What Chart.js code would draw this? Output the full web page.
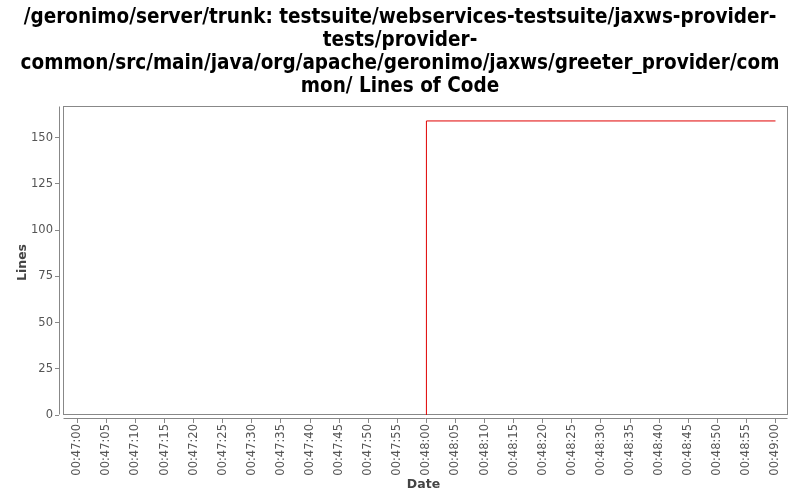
<!DOCTYPE html>
<html>
<head>
<meta charset="utf-8">
<script src="https://cdn.jsdelivr.net/npm/chart.js@4/dist/chart.umd.min.js"></script>
<style>
html,body{margin:0;padding:0;background:#fff;}
#wrap{width:800px;height:500px;position:relative;}
</style>
</head>
<body>
<div id="wrap"><canvas id="c" width="800" height="500"></canvas></div>
<script>
// ---- data ----
const titleLines = [
  "/geronimo/server/trunk: testsuite/webservices-testsuite/jaxws-provider-",
  "tests/provider-",
  "common/src/main/java/org/apache/geronimo/jaxws/greeter_provider/com",
  "mon/ Lines of Code"
];
const times = ["00:48:00", "00:48:00", "00:49:00"];
const lines = [0, 159, 159];
const xTickLabels = ["00:47:00","00:47:05","00:47:10","00:47:15","00:47:20","00:47:25","00:47:30","00:47:35","00:47:40","00:47:45","00:47:50","00:47:55","00:48:00","00:48:05","00:48:10","00:48:15","00:48:20","00:48:25","00:48:30","00:48:35","00:48:40","00:48:45","00:48:50","00:48:55","00:49:00"];
const yTicks = [0, 25, 50, 75, 100, 125, 150];

// helpers
function toSec(t){ const p=t.split(":").map(Number); return p[0]*3600+p[1]*60+p[2]; }
const base = toSec(xTickLabels[0]);
const xTickVals = xTickLabels.map(t => toSec(t) - base);
function fmt(s){
  const tot = base + Math.round(s);
  const h = Math.floor(tot/3600), m = Math.floor((tot%3600)/60), ss = tot%60;
  const p = n => String(n).padStart(2,"0");
  return p(h)+":"+p(m)+":"+p(ss);
}
const pts = times.map((t,i)=>({x: toSec(t)-base, y: lines[i]}));

const AXIS = "#888888";
const GAP = 4;
const framePlugin = {
  id: "frame",
  beforeDatasetsDraw(chart){
    const a = chart.chartArea, ctx = chart.ctx;
    ctx.save();
    ctx.strokeStyle = AXIS;
    ctx.lineWidth = 1;
    const L = Math.round(a.left + GAP) + 0.5, R = Math.round(a.right) - 0.5;
    const T = Math.round(a.top) + 0.5, B = Math.round(a.bottom - GAP) - 0.5;
    ctx.strokeRect(L, T, R - L, B - T);
    ctx.beginPath();
    ctx.moveTo(Math.round(a.left) + 0.5, T);
    ctx.lineTo(Math.round(a.left) + 0.5, B);
    ctx.moveTo(L, Math.round(a.bottom) - 0.5);
    ctx.lineTo(R, Math.round(a.bottom) - 0.5);
    ctx.stroke();
    ctx.restore();
  }
};

new Chart(document.getElementById("c"), {
  type: "line",
  data: {
    datasets: [{
      data: pts,
      borderColor: "#e00000",
      borderWidth: 1,
      pointRadius: 0,
      fill: false,
      tension: 0
    }]
  },
  plugins: [framePlugin],
  options: {
    responsive: false,
    animation: false,
    events: [],
    layout: { padding: { left: 12, right: 12, top: 0, bottom: 0 } },
    plugins: {
      legend: { display: false },
      tooltip: { enabled: false },
      title: {
        display: true,
        text: titleLines,
        color: "#000",
        font: { family: "'DejaVu Sans Condensed', 'DejaVu Sans'", weight: "bold", size: 20.5, lineHeight: 1.13 },
        padding: { top: 6, bottom: 7.3 }
      }
    },
    scales: {
      x: {
        type: "linear",
        min: -3.15,
        max: 122.15,
        afterBuildTicks: s => { s.ticks = xTickVals.map(v => ({ value: v })); },
        afterFit: s => { s.height = 81; },
        border: { display: false },
        grid: { drawOnChartArea: false, drawTicks: true, tickLength: 4, color: AXIS },
        ticks: {
          autoSkip: false,
          maxRotation: 90,
          minRotation: 90,
          padding: 1,
          color: "#555",
          font: { family: "'DejaVu Sans'", size: 11.5 },
          callback: v => fmt(v)
        },
        title: {
          display: true,
          text: "Date",
          color: "#444",
          font: { family: "'DejaVu Sans'", size: 12.5, weight: "bold" },
          padding: { top: 0, bottom: 8 }
        }
      },
      y: {
        type: "linear",
        min: -2.16,
        max: 167.1,
        afterBuildTicks: s => { s.ticks = yTicks.map(v => ({ value: v })); },
        afterFit: s => { s.width = 47; },
        border: { display: false },
        grid: { drawOnChartArea: false, drawTicks: true, tickLength: 4, color: AXIS },
        ticks: {
          padding: 2,
          color: "#555",
          font: { family: "'DejaVu Sans'", size: 11.5 }
        },
        title: {
          display: true,
          text: "Lines",
          color: "#444",
          font: { family: "'DejaVu Sans'", size: 12.5, weight: "bold" },
          padding: { top: 3, bottom: 0 }
        }
      }
    }
  }
});
</script>
</body>
</html>
